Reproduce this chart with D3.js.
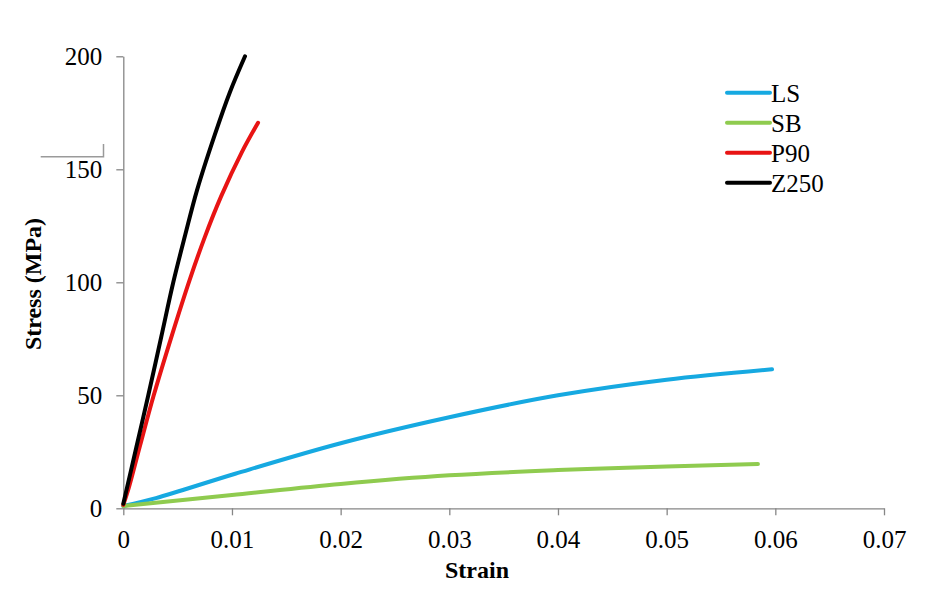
<!DOCTYPE html>
<html>
    <head>
        <meta charset="utf-8">
        <script src="https://d3js.org/d3.v7.min.js"></script>
        <style>
            body { margin:0; background:#fff; }
            svg { display:block; }
            text { font-family: "Liberation Serif", "Times New Roman", serif; fill:#000; }
        </style>
    </head>
    <body>
        <svg id="chart" width="926" height="598"></svg>
    </body>
    <script>
        // data: [strain, stress MPa]
        const LS = [[0,1],[0.003,4.5],[0.0103,15.3],[0.02,28.8],[0.03,40.3],[0.04,50.0],[0.05,56.9],[0.0597,61.5]];
        const SB = [[0,1],[0.01,5.9],[0.02,10.8],[0.03,14.6],[0.04,16.9],[0.05,18.5],[0.0584,19.6]];
        const P90 = [[0,1.5],[0.0005,9],[0.0015,27],[0.0028,50],[0.0045,77],[0.0061,101],[0.0075,120],[0.009,138],[0.0109,157.5],[0.0124,170.6]];
        const Z250 = [[0,2],[0.0012,27],[0.0023,50],[0.0035,76],[0.0046,100],[0.0057,121],[0.0068,141],[0.0084,165],[0.0098,184],[0.0112,200]];

        const seriesNames = ['LS','SB','P90','Z250'];
        const seriesData = [LS, SB, P90, Z250];
        const seriesColors = ['#16a9e1','#8fcb4f','#e81414','#000000'];

        const xTicks = [0,0.01,0.02,0.03,0.04,0.05,0.06,0.07];
        const yTicks = [0,50,100,150,200];

        const svg = d3.select('#chart');

        const x = d3.scaleLinear().domain([0,0.07]).range([123.3,884]);
        const y = d3.scaleLinear().domain([0,200]).range([508.3,56.3]);

        // y axis
        const yAxis = svg.append('g')
            .attr('transform', `translate(${x(0)},0)`)
            .call(d3.axisLeft(y).tickValues(yTicks).tickSize(7).tickSizeOuter(0).tickPadding(14)
                .tickFormat(d3.format('d')));
        // x axis
        const xAxis = svg.append('g')
            .attr('transform', `translate(0,${y(0)})`)
            .call(d3.axisBottom(x).tickValues(xTicks).tickSize(7).tickSizeOuter(0).tickPadding(15)
                .tickFormat(d => d === 0 ? '0' : d3.format('.2f')(d)));

        [yAxis, xAxis].forEach(a => {
            a.attr('font-family', null).attr('font-size', null);
            a.select('.domain').attr('stroke','#868686').attr('stroke-width',1.3);
            a.selectAll('.tick line').attr('stroke','#868686').attr('stroke-width',1.3);
            a.selectAll('.tick text')
                .style('font-family','"Liberation Serif", serif')
                .style('font-size','25px')
                .attr('fill','#000');
        });
        yAxis.selectAll('.tick text').attr('dy','0.34em');

        // stray gray mark left of the axis
        svg.append('path')
            .attr('d','M40.7,156.7H103.5V144')
            .attr('fill','none')
            .attr('stroke','#9a9a9a')
            .attr('stroke-width',1.5);

        // curves
        const line = d3.line()
            .x(d => x(d[0]))
            .y(d => y(d[1]))
            .curve(d3.curveCatmullRom);

        seriesData.forEach((s, i) => {
            svg.append('path')
                .datum(s)
                .attr('d', line)
                .attr('fill','none')
                .attr('stroke', seriesColors[i])
                .attr('stroke-width', 4)
                .attr('stroke-linecap','round');
        });

        // legend
        const legend = svg.append('g');
        seriesNames.forEach((n, i) => {
            const ly = 92.7 + i * 30;
            legend.append('line')
                .attr('x1',727).attr('x2',770)
                .attr('y1',ly).attr('y2',ly)
                .attr('stroke', seriesColors[i])
                .attr('stroke-width',4)
                .attr('stroke-linecap','round');
            legend.append('text')
                .attr('x',771).attr('y',ly + 9)
                .style('font-size','25px')
                .text(n);
        });

        // axis titles
        svg.append('text')
            .attr('x',477).attr('y',578)
            .attr('text-anchor','middle')
            .style('font-size','24px')
            .style('font-weight','bold')
            .text('Strain');

        svg.append('text')
            .attr('transform','translate(41,284) rotate(-90)')
            .attr('text-anchor','middle')
            .style('font-size','24px')
            .style('font-weight','bold')
            .text('Stress (MPa)');
    </script>
</html>
